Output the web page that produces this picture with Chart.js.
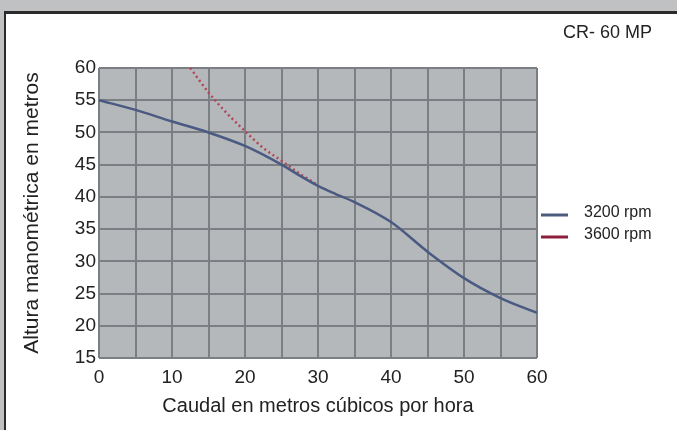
<!DOCTYPE html>
<html>
<head>
<meta charset="utf-8">
<script src="https://cdn.jsdelivr.net/npm/chart.js@4.4.1/dist/chart.umd.min.js"></script>
<style>
  html, body { margin: 0; padding: 0; }
  body { width: 677px; height: 430px; background: #c0c1c3; position: relative; overflow: hidden; }
  #panel { position: absolute; left: 4px; top: 11px; right: 0; bottom: 0; background: #fff;
           border-left: 2px solid #2b2b2b; border-top: 3px solid #2b2b2b; }
  #chartCurva { position: absolute; left: 0; top: 0; }
</style>
</head>
<body>
<div id="panel"></div>
<canvas id="chartCurva" width="677" height="430"></canvas>
<script>
/* datos */
var caudal3200 = [0, 5, 10, 15, 20, 25, 27.5, 30, 32.5, 35, 40, 45, 50, 55, 60];
var altura3200 = [55, 53.5, 51.7, 50, 47.9, 45, 43.3, 41.7, 40.4, 39.2, 36.1, 31.5, 27.4, 24.3, 22];

var caudal3600 = [12.5, 15, 17.5, 20, 22.5, 25, 27.5, 30];
var altura3600 = [60, 56.2, 53, 50.2, 47.6, 45.6, 43.6, 41.8];

var ticksX = [0, 10, 20, 30, 40, 50, 60];
var ticksY = [15, 20, 25, 30, 35, 40, 45, 50, 55, 60];

var series = [
    { label: '3200 rpm', x: caudal3200, y: altura3200, color: '#4a5a82', dash: [] },
    { label: '3600 rpm', x: caudal3600, y: altura3600, color: '#b24658', dash: [2, 3] }
];

function puntos(xs, ys) {
    return xs.map(function (v, i) { return { x: v, y: ys[i] }; });
}

// fondo gris del área del gráfico
var fondoPlot = {
    id: 'fondoPlot',
    beforeDraw: function (chart) {
        var a = chart.chartArea, ctx = chart.ctx;
        ctx.save();
        ctx.fillStyle = '#b4b8ba';
        ctx.fillRect(a.left, a.top, a.right - a.left, a.bottom - a.top);
        ctx.restore();
    }
};

// título arriba a la derecha y leyenda al lado del gráfico
var textosExtra = {
    id: 'textosExtra',
    afterDraw: function (chart) {
        var a = chart.chartArea, ctx = chart.ctx;
        ctx.save();
        ctx.fillStyle = '#222';
        ctx.textBaseline = 'middle';
        ctx.font = '18px "Liberation Sans", Arial, sans-serif';
        ctx.fillText('CR- 60 MP', 563, 33);

        ctx.font = '16px "Liberation Sans", Arial, sans-serif';
        series.forEach(function (s, i) {
            var y = 215 + i * 22;
            ctx.strokeStyle = i === 0 ? '#4d5b7c' : '#8e1f3c';
            ctx.lineWidth = 3;
            ctx.beginPath();
            ctx.moveTo(a.right + 4, y);
            ctx.lineTo(a.right + 31, y);
            ctx.stroke();
            ctx.fillStyle = '#222';
            ctx.fillText(s.label, a.right + 47, y - 2);
        });
        ctx.restore();
    }
};

var chartCurva = document.getElementById('chartCurva').getContext('2d');
new Chart(chartCurva, {
    type: 'scatter',
    data: {
        datasets: series.map(function (s) {
            return {
                label: s.label,
                data: puntos(s.x, s.y),
                showLine: true,
                borderColor: s.color,
                borderWidth: 2.5,
                borderDash: s.dash,
                pointRadius: 0,
                cubicInterpolationMode: 'monotone',
                fill: false,
                clip: 2
            };
        })
    },
    options: {
        responsive: false,
        animation: false,
        layout: { padding: { left: 0, right: 140, top: 68, bottom: 0 } },
        plugins: {
            legend: { display: false },
            tooltip: { enabled: false },
            title: { display: false }
        },
        scales: {
            x: {
                type: 'linear',
                min: 0,
                max: 60,
                afterFit: function (axis) { axis.height = 72; },
                grid: { color: '#7b7f83', lineWidth: 2, drawTicks: false },
                border: { display: false },
                ticks: {
                    stepSize: 5,
                    padding: 8,
                    color: '#222',
                    font: { family: '"Liberation Sans", Arial, sans-serif', size: 19 },
                    maxRotation: 0,
                    callback: function (v) { return ticksX.indexOf(v) >= 0 ? v : ''; }
                },
                title: {
                    display: true,
                    text: 'Caudal en metros cúbicos por hora',
                    color: '#222',
                    font: { family: '"Liberation Sans", Arial, sans-serif', size: 20 },
                    padding: { top: 0, bottom: 12 }
                }
            },
            y: {
                type: 'linear',
                min: 15,
                max: 60,
                afterFit: function (axis) { axis.width = 99; },
                grid: { color: '#7b7f83', lineWidth: 2, drawTicks: false },
                border: { display: false },
                ticks: {
                    stepSize: 5,
                    padding: 3,
                    color: '#222',
                    font: { family: '"Liberation Sans", Arial, sans-serif', size: 19 },
                    callback: function (v) { return ticksY.indexOf(v) >= 0 ? v : ''; }
                },
                title: {
                    display: true,
                    text: 'Altura manométrica en metros',
                    color: '#222',
                    font: { family: '"Liberation Sans", Arial, sans-serif', size: 21 },
                    padding: { top: 20, bottom: 0 }
                }
            }
        }
    },
    plugins: [fondoPlot, textosExtra]
});
</script>
</body>
</html>
